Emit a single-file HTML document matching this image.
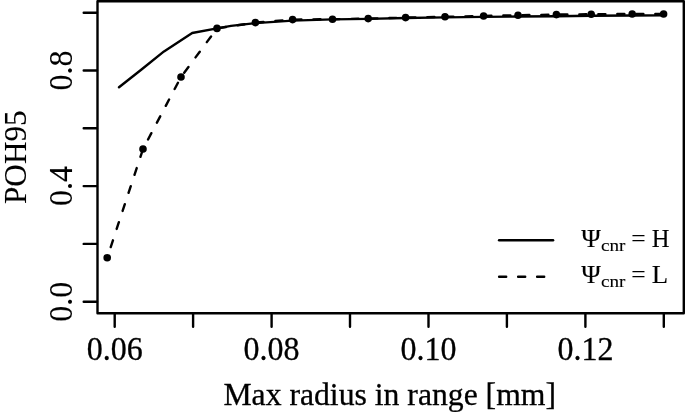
<!DOCTYPE html>
<html>
<head>
<meta charset="utf-8">
<title>POH95 vs Max radius in range</title>
<style>
html,body{margin:0;padding:0;background:#fff;}
body{width:685px;height:412px;overflow:hidden;}
svg{display:block;}
text{font-family:"Liberation Serif","Times New Roman",Times,serif;fill:#000;stroke:#000;stroke-width:0.3px;}
.ax{font-size:32px;}
.lg{font-size:24.6px;}
.rot text{stroke-width:0.1px;}
.lg text{stroke-width:0.1px;}
.sub{font-size:17.2px;}
</style>
</head>
<body>
<svg width="685" height="412" viewBox="0 0 685 412">
<rect x="0" y="0" width="685" height="412" fill="#fff"/>
<!-- plot frame -->
<rect x="97.5" y="1.2" width="586.3" height="312" fill="none" stroke="#000" stroke-width="2.4" stroke-linejoin="round"/>
<!-- y ticks -->
<g stroke="#000" stroke-width="2.4" fill="none" stroke-linecap="round">
<path d="M83.7 12.7H97M83.7 70.5H97M83.7 128.3H97M83.7 186.1H97M83.7 243.9H97M83.7 301.7H97"/>
<path d="M114.7 313.6V326.8M193.1 313.6V326.8M271.6 313.6V326.8M350.0 313.6V326.8M428.5 313.6V326.8M506.9 313.6V326.8M585.4 313.6V326.8M663.8 313.6V326.8"/>
</g>
<!-- solid line -->
<polyline fill="none" stroke="#000" stroke-width="2.4" stroke-linejoin="round" stroke-linecap="round" points="119,87.3 141.5,69.5 164,51.4 192.2,33 217,28.4 231,25.9 255.4,23.1 292.6,20.6 332.5,19.4 368.2,18.9 405.6,18 445,17.4 483.6,16.9 518,16.55 556.4,16.2 591.2,15.8 632.2,15.55 663.6,15.4"/>
<!-- dashed line -->
<g fill="none" stroke="#000" stroke-width="2.4" stroke-dasharray="7.1 11.9" stroke-dashoffset="-1.2" stroke-linejoin="round" stroke-linecap="round">
<polyline points="663.6,14 632.2,14 591.2,14.2 556.4,14.6 518,15.2 483.6,16 445,16.8 405.6,17.6 368.2,18.6 332.5,19.2 292.6,19.6 255.4,22.6 217,28.4 181,77 143,149 107.2,257.7"/>
</g>
<g fill="#000">
<circle cx="107.2" cy="257.7" r="3.8"/><circle cx="143" cy="149" r="3.8"/><circle cx="181" cy="77" r="3.8"/><circle cx="217" cy="28.4" r="3.8"/>
<circle cx="255.4" cy="22.6" r="3.8"/><circle cx="292.6" cy="19.6" r="3.8"/><circle cx="332.5" cy="19.2" r="3.8"/><circle cx="368.2" cy="18.6" r="3.8"/>
<circle cx="405.6" cy="17.6" r="3.8"/><circle cx="445" cy="16.8" r="3.8"/><circle cx="483.6" cy="16" r="3.8"/><circle cx="518" cy="15.2" r="3.8"/>
<circle cx="556.4" cy="14.6" r="3.8"/><circle cx="591.2" cy="14.2" r="3.8"/><circle cx="632.2" cy="14" r="3.8"/><circle cx="663.6" cy="14" r="3.8"/>
</g>
<!-- x tick labels -->
<g class="ax" text-anchor="middle">
<text transform="translate(114.7 359.7) scale(1 1.045)">0.06</text>
<text transform="translate(271.6 359.7) scale(1 1.045)">0.08</text>
<text transform="translate(428.5 359.7) scale(1 1.045)">0.10</text>
<text transform="translate(585.4 359.7) scale(1 1.045)">0.12</text>
<text transform="translate(389.7 404.5) scale(1 0.96)" textLength="332.6" lengthAdjust="spacingAndGlyphs">Max radius in range [mm]</text>
</g>
<!-- y tick labels -->
<g class="ax rot" text-anchor="middle">
<text transform="translate(72.4 301.7) rotate(-90) scale(1 1.045)">0.0</text>
<text transform="translate(72.4 186.1) rotate(-90) scale(1 1.045)">0.4</text>
<text transform="translate(72.4 70.5) rotate(-90) scale(1 1.045)">0.8</text>
<text transform="translate(26.2 157.2) rotate(-90) scale(1 0.97)" textLength="93.6" lengthAdjust="spacingAndGlyphs">POH95</text>
</g>
<!-- legend -->
<g stroke="#000" stroke-width="2.4" fill="none" stroke-linecap="round">
<path d="M499.1 240.3H553.1"/>
<path d="M499.1 276.7H553.1" stroke-dasharray="7.1 11.9"/>
</g>
<g class="lg">
<text transform="translate(0 247.3) scale(1 1.03)"><tspan x="581.2" textLength="19.6" lengthAdjust="spacingAndGlyphs">Ψ</tspan><tspan class="sub" x="601" dy="3.6" textLength="24.42" lengthAdjust="spacingAndGlyphs">cnr</tspan> <tspan x="631.2" dy="-3.6" textLength="14.43" lengthAdjust="spacingAndGlyphs">=</tspan> <tspan x="651.7" textLength="17.76" lengthAdjust="spacingAndGlyphs">H</tspan></text>
<text transform="translate(0 283.4) scale(1 1.03)"><tspan x="581.2" textLength="19.6" lengthAdjust="spacingAndGlyphs">Ψ</tspan><tspan class="sub" x="601" dy="3.6" textLength="24.42" lengthAdjust="spacingAndGlyphs">cnr</tspan> <tspan x="631.2" dy="-3.6" textLength="14.43" lengthAdjust="spacingAndGlyphs">=</tspan> <tspan x="651.7" textLength="16.38" lengthAdjust="spacingAndGlyphs">L</tspan></text>
</g>
</svg>
</body>
</html>
